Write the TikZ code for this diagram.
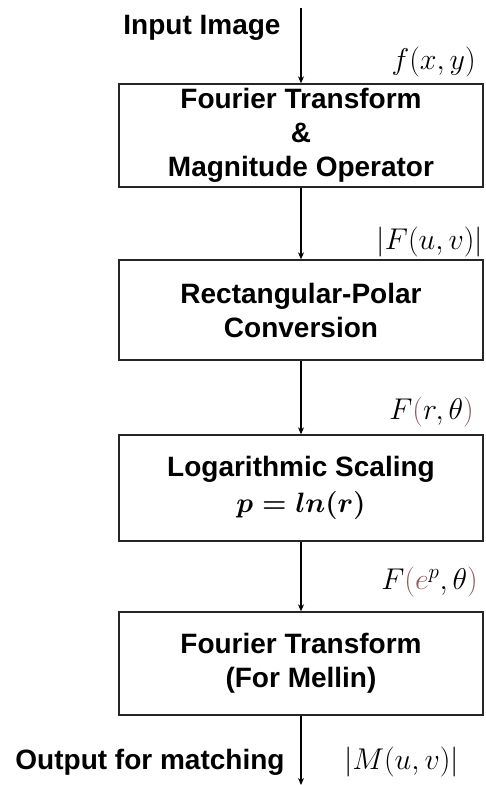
\RequirePackage{fix-cm}
\documentclass[tikz,border=0pt]{standalone}
\usepackage{fontspec}
\setmainfont{Liberation Sans}
\usetikzlibrary{arrows.meta}
\definecolor{paren}{RGB}{140,95,95}
\begin{document}
\begin{tikzpicture}[x=1pt,y=-1pt,
  box/.style={draw=black!85,line width=1.4pt,minimum width=364pt,inner sep=0pt,align=center,
    font=\fontsize{28}{34}\selectfont\bfseries},
  lbl/.style={inner sep=0pt,font=\fontsize{28}{34}\selectfont\bfseries},
  mlab/.style={inner sep=0pt,anchor=east,font=\fontsize{30}{36}\selectfont},
  conn/.style={line width=1.2pt,-{Stealth[length=7pt,width=6pt]}}]
\useasboundingbox (0,0) rectangle (485,785);
\node[box,minimum height=103pt] (b1) at (301,135.5) {Fourier Transform\\\&\\Magnitude Operator};
\node[box,minimum height=100pt] (b2) at (301,310) {Rectangular-Polar\\Conversion};
\node[box,minimum height=106pt] (b3) at (301,488) {Logarithmic Scaling\\[2pt]{\boldmath$p=ln(r)$}};
\node[box,minimum height=103pt] (b4) at (301,663.5) {Fourier Transform\\(For Mellin)};
\coordinate (in) at (301,8);
\coordinate (out) at (301,785);
\node[lbl] (tin) at (202,28) {Input Image};
\node[lbl] (tout) at (150,762) {Output for matching};
\node[mlab] (m1) at (476,62) {$f(x,y)$};
\node[mlab] (m2) at (483,242) {$|F(u,v)|$};
\node[mlab] (m3) at (474,412) {$F\textcolor{paren}{(}r,\theta\textcolor{paren}{)}$};
\node[mlab] (m4) at (478,582) {$F\textcolor{paren}{(e}^{p},\theta\textcolor{paren}{)}$};
\node[mlab] (m5) at (459,762) {$|M(u,v)|$};
\draw[conn] (in) -- (b1.north);
\draw[conn] (b1.south) -- (b2.north);
\draw[conn] (b2.south) -- (b3.north);
\draw[conn] (b3.south) -- (b4.north);
\draw[conn] (b4.south) -- (out);
\end{tikzpicture}
\end{document}
